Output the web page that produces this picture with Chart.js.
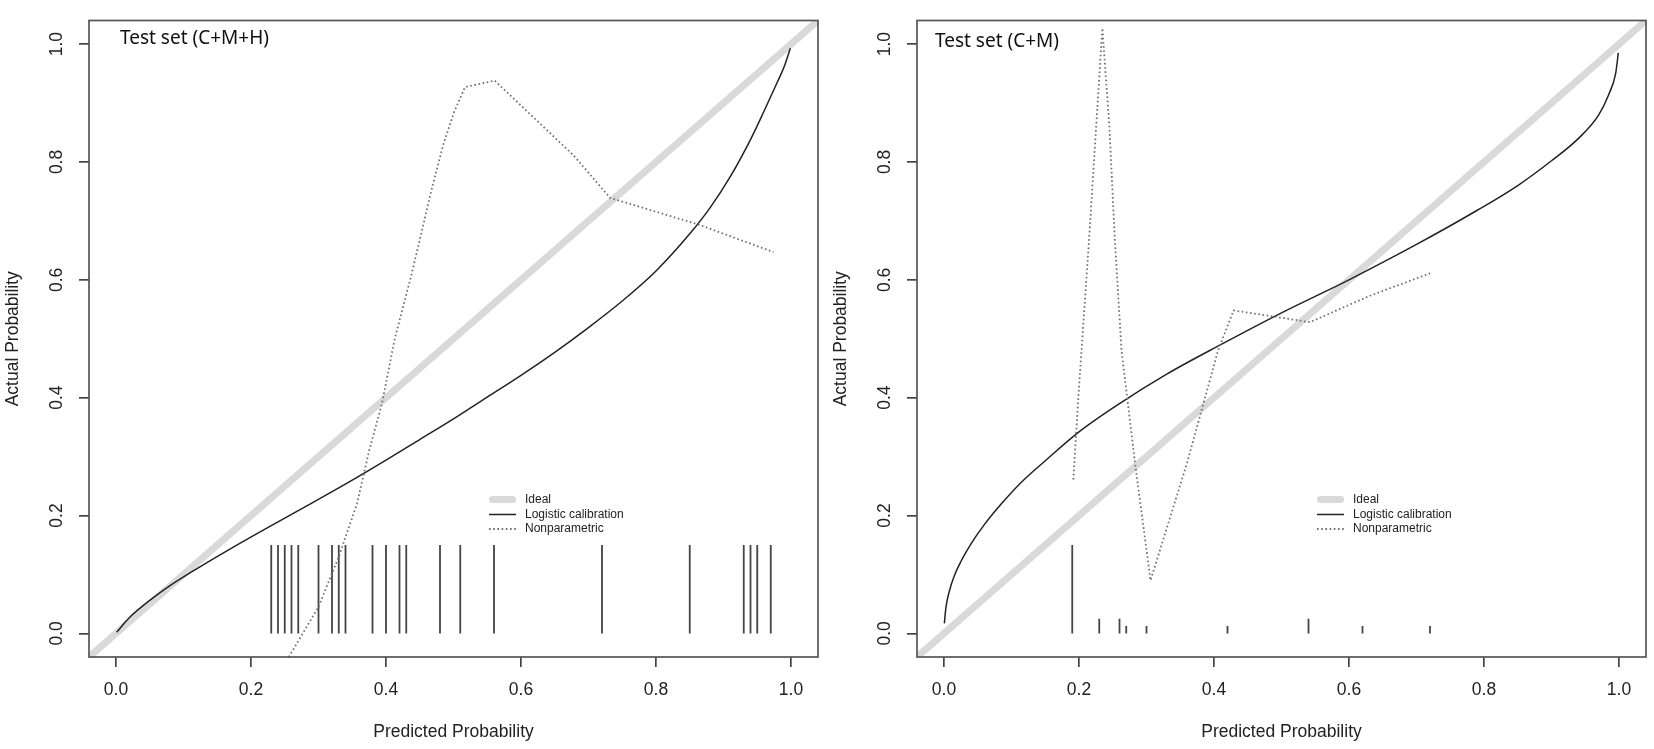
<!DOCTYPE html>
<html><head><meta charset="utf-8">
<script src="https://cdn.jsdelivr.net/npm/chart.js@4.4.1/dist/chart.umd.min.js"></script>
<style>
html,body{margin:0;padding:0;background:#fff;width:1654px;height:749px;overflow:hidden}
canvas{position:absolute;top:0}
#c1{left:0}
#c2{left:828px}
</style></head><body>
<canvas id="c1" width="826" height="749"></canvas>
<canvas id="c2" width="826" height="749"></canvas>
<script>
// ---- tick labels ----
const xTicks = [0, 0.2, 0.4, 0.6, 0.8, 1.0];
const yTicks = [0, 0.2, 0.4, 0.6, 0.8, 1.0];

// ---- ideal diagonal ----
const idealX = [-0.04, 1.04];
const idealY = [-0.04, 1.04];

// ---- left panel: Test set (C+M+H) ----
const leftLogisticX = [0.001,0.02,0.05,0.08,0.12,0.17,0.23,0.29,0.35,0.40,0.45,0.50,0.55,0.60,0.65,0.70,0.75,0.80,0.85,0.88,0.91,0.94,0.96,0.98,0.99,0.999];
const leftLogisticY = [0.002,0.027,0.056,0.081,0.110,0.144,0.183,0.221,0.260,0.294,0.329,0.364,0.401,0.438,0.477,0.519,0.564,0.615,0.678,0.722,0.775,0.838,0.886,0.936,0.962,0.993];
const leftNonparX = [0.256,0.30,0.33,0.357,0.375,0.394,0.413,0.438,0.469,0.485,0.501,0.517,0.561,0.62,0.678,0.732,0.865,0.974];
const leftNonparY = [-0.04,0.045,0.13,0.22,0.31,0.39,0.50,0.61,0.76,0.83,0.885,0.927,0.938,0.874,0.811,0.739,0.693,0.647];
const leftRugX = [0.23,0.24,0.25,0.26,0.27,0.30,0.32,0.33,0.34,0.38,0.40,0.42,0.43,0.48,0.51,0.56,0.72,0.85,0.93,0.94,0.95,0.97];
const leftRugH = [0.15,0.15,0.15,0.15,0.15,0.15,0.15,0.15,0.15,0.15,0.15,0.15,0.15,0.15,0.15,0.15,0.15,0.15,0.15,0.15,0.15,0.15];

// ---- right panel: Test set (C+M) ----
const rightLogisticX = [0.0005,0.003,0.008,0.015,0.025,0.04,0.06,0.085,0.115,0.15,0.20,0.26,0.33,0.41,0.50,0.60,0.70,0.79,0.85,0.90,0.94,0.97,0.985,0.995,0.999];
const rightLogisticY = [0.017,0.045,0.072,0.097,0.122,0.152,0.185,0.220,0.257,0.293,0.342,0.390,0.440,0.490,0.544,0.600,0.660,0.718,0.760,0.802,0.840,0.880,0.915,0.950,0.985];
const rightNonparX = [0.1916,0.199,0.215,0.2346,0.245,0.253,0.263,0.283,0.306,0.36,0.406,0.429,0.493,0.542,0.631,0.72];
const rightNonparY = [0.261,0.40,0.67,1.027,0.861,0.67,0.48,0.289,0.09,0.289,0.48,0.548,0.537,0.528,0.573,0.611];
const rightRugX = [0.19,0.23,0.26,0.27,0.30,0.42,0.54,0.62,0.72];
const rightRugH = [0.15,0.025,0.025,0.0125,0.0125,0.0125,0.025,0.0125,0.0125];

const legendNames = ['Ideal', 'Logistic calibration', 'Nonparametric'];
const AX_FONT = '"Liberation Sans", Arial, sans-serif';

function pts(xs, ys) { return xs.map((x, i) => ({x: x, y: ys[i]})); }
function rugPts(xs, hs) {
  const out = [];
  xs.forEach((x, i) => { out.push({x: x, y: 0}, {x: x, y: hs[i]}, {x: x, y: null}); });
  return out;
}

const framePlugin = {
  id: 'frameBox',
  afterDatasetsDraw(chart) {
    const {ctx, chartArea: a} = chart;
    ctx.save();
    ctx.strokeStyle = '#555';
    ctx.lineWidth = 1.7;
    ctx.strokeRect(a.left, a.top, a.right - a.left, a.bottom - a.top);
    ctx.restore();
  }
};

const decorPlugin = {
  id: 'decor',
  afterDraw(chart, args, opts) {
    const {ctx, chartArea: a} = chart;
    ctx.save();
    ctx.fillStyle = '#111';
    ctx.font = '19px "Noto Sans", "Open Sans", sans-serif';
    ctx.textAlign = 'left';
    ctx.textBaseline = 'alphabetic';
    ctx.fillText(opts.text, a.left + opts.dx, opts.baseline);
    const x0 = a.left + 400, x1 = a.left + 427, tx = a.left + 436;
    const rows = [479, 494, 508.5];
    const entries = chart.data.datasets.filter(d => d.legendLabel);
    entries.forEach((d, i) => {
      const y = a.top + rows[i];
      ctx.save();
      ctx.strokeStyle = d.borderColor;
      ctx.lineWidth = d.borderWidth;
      ctx.setLineDash(d.borderDash || []);
      ctx.lineCap = d.legendCap || 'butt';
      const inset = d.legendCap === 'round' ? d.borderWidth / 2 : 0;
      ctx.beginPath();
      ctx.moveTo(x0 + inset, y);
      ctx.lineTo(x1 - inset, y);
      ctx.stroke();
      ctx.restore();
      ctx.fillStyle = '#222';
      ctx.font = '12px ' + AX_FONT;
      ctx.textAlign = 'left';
      ctx.textBaseline = 'middle';
      ctx.fillText(d.legendLabel, tx, y);
    });
    ctx.restore();
  }
};

function makeChart(id, label, dx, baseline, logX, logY, npX, npY, rugX, rugH) {
  const gridOpts = {display: true, drawOnChartArea: false, drawTicks: true, tickLength: 10, color: '#444', lineWidth: 1.7};
  return new Chart(document.getElementById(id), {
    type: 'scatter',
    data: {
      datasets: [
        {label: legendNames[0], legendLabel: legendNames[0], data: pts(idealX, idealY), showLine: true,
         borderColor: '#d9d9d9', borderWidth: 7, pointRadius: 0, order: 4, clip: 0, legendCap: 'round'},
        {label: legendNames[1], legendLabel: legendNames[1], data: pts(logX, logY), showLine: true,
         borderColor: '#222', borderWidth: 1.5, pointRadius: 0, order: 1, clip: 0, cubicInterpolationMode: 'monotone'},
        {label: legendNames[2], legendLabel: legendNames[2], data: pts(npX, npY), showLine: true,
         borderColor: '#707070', borderWidth: 1.8, borderDash: [1.6, 2.6], pointRadius: 0, order: 0, clip: 0, tension: 0},
        {label: 'rug', data: rugPts(rugX, rugH), showLine: true, spanGaps: false,
         borderColor: '#444', borderWidth: 1.8, pointRadius: 0, order: 2, clip: 0}
      ]
    },
    options: {
      responsive: false,
      animation: false,
      events: [],
      layout: {padding: {left: 0, right: 8, top: 7, bottom: 0}},
      plugins: {
        legend: {display: false},
        tooltip: {enabled: false},
        decor: {text: label, dx: dx, baseline: baseline}
      },
      scales: {
        x: {
          type: 'linear', min: -0.04, max: 1.04,
          afterBuildTicks: s => { s.ticks = xTicks.map(v => ({value: v})); },
          afterFit: s => { s.height = 92; },
          grid: gridOpts,
          border: {display: false},
          ticks: {font: {family: AX_FONT, size: 17.5}, color: '#222', padding: 13,
                  minRotation: 0, maxRotation: 0, autoSkip: false,
                  callback: v => Number(v).toFixed(1)},
          title: {display: true, text: 'Predicted Probability', color: '#222',
                  font: {family: AX_FONT, size: 17.5}, padding: {top: 0, bottom: 6.5}}
        },
        y: {
          type: 'linear', min: -0.04, max: 1.04,
          afterBuildTicks: s => { s.ticks = yTicks.map(v => ({value: v})); },
          afterFit: s => { s.width = 89; },
          grid: gridOpts,
          border: {display: false},
          ticks: {font: {family: AX_FONT, size: 17.5}, color: '#222', padding: 10,
                  minRotation: 90, maxRotation: 90, crossAlign: 'center', autoSkip: false,
                  callback: v => Number(v).toFixed(1)},
          title: {display: true, text: 'Actual Probability', color: '#222',
                  font: {family: AX_FONT, size: 17.5}, padding: {top: 2.5, bottom: 0}}
        }
      }
    },
    plugins: [framePlugin, decorPlugin]
  });
}

makeChart('c1', 'Test set (C+M+H)', 31, 44, leftLogisticX, leftLogisticY, leftNonparX, leftNonparY, leftRugX, leftRugH);
makeChart('c2', 'Test set (C+M)', 18, 47, rightLogisticX, rightLogisticY, rightNonparX, rightNonparY, rightRugX, rightRugH);
</script>
</body></html>
